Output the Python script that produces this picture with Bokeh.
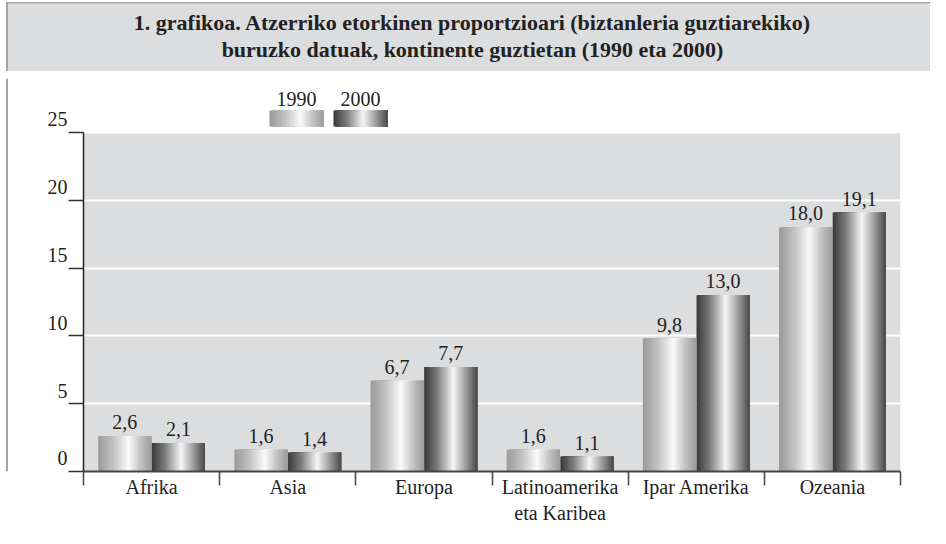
from bokeh.plotting import figure
from bokeh.models import ColumnDataSource, FixedTicker, Range1d, BoxAnnotation
from bokeh.layouts import column, row
from bokeh.embed import file_html
from bokeh.resources import INLINE
from bokeh.core.properties import value

# ---------------- data ----------------
TITLE_LINES = [
    "1. grafikoa. Atzerriko etorkinen proportzioari (biztanleria guztiarekiko)",
    "buruzko datuak, kontinente guztietan (1990 eta 2000)",
]
categories = ["Afrika", "Asia", "Europa", "Latinoamerika\neta Karibea", "Ipar Amerika", "Ozeania"]
years = ["1990", "2000"]
values_1990 = [2.6, 1.6, 6.7, 1.6, 9.8, 18.0]
values_2000 = [2.1, 1.4, 7.7, 1.1, 13.0, 19.1]
y_ticks = [0, 5, 10, 15, 20, 25]

# ---------------- style ----------------
FONT = value("Liberation Serif")
TXT = "#222222"
BAND = "#dcdddf"
PLOT_BG = "#dcdddf"
EDGE = "#a4a4a4"
FS = "20px"
STOPS = {
    "1990": [(0.0, 0x9a), (0.3, 0xc4), (0.57, 0xfb), (0.8, 0xc2), (1.0, 0x9c)],
    "2000": [(0.0, 0x38), (0.25, 0x7e), (0.55, 0xf6), (0.82, 0x8e), (1.0, 0x48)],
}
NSTRIP = 40
BAR_W = 0.39
OFFS = [-0.197, 0.197]

def grad(stops, t):
    for (t0, c0), (t1, c1) in zip(stops, stops[1:]):
        if t0 <= t <= t1:
            f = (t - t0) / (t1 - t0)
            c = int(round(c0 + (c1 - c0) * f))
            return "#%02x%02x%02x" % (c, c, c)
    c = stops[-1][1]
    return "#%02x%02x%02x" % (c, c, c)

# layout (pixels)
W = 930
TITLE_H = 71
MAIN_H = 457
SIDE_W = 8
PX_PER_UNIT = 339 / 25.0
FRAME_H = 393
Y_END = FRAME_H / PX_PER_UNIT

# ---------------- title band ----------------
t = figure(width=W, height=TITLE_H, x_range=Range1d(0, W), y_range=Range1d(0, TITLE_H),
           output_backend="svg", toolbar_location=None, min_border=0,
           x_axis_location=None, y_axis_location=None,
           background_fill_color="white", border_fill_color="white", outline_line_color=None)
t.grid.visible = False
t.quad(left=[7.5], right=[W], bottom=[0], top=[TITLE_H - 3], fill_color=BAND, line_color=None)
t.quad(left=[7], right=[W], bottom=[TITLE_H - 3], top=[TITLE_H - 1.5], fill_color=EDGE, line_color=None)
t.quad(left=[5.5], right=[7.5], bottom=[0], top=[TITLE_H - 1.5], fill_color=EDGE, line_color=None)
t.text(x=[472, 472], y=[TITLE_H - 22, TITLE_H - 49], text=TITLE_LINES, text_align="center",
       text_baseline="middle", text_font=FONT, text_font_style="bold",
       text_font_size="22px", text_color=TXT)

# ---------------- left edge strip ----------------
side = figure(width=SIDE_W, height=MAIN_H, x_range=Range1d(0, SIDE_W), y_range=Range1d(0, MAIN_H),
              output_backend="svg", toolbar_location=None, min_border=0,
              x_axis_location=None, y_axis_location=None,
              background_fill_color="white", border_fill_color="white", outline_line_color=None)
side.grid.visible = False
side.quad(left=[5.5], right=[7.5], bottom=[0], top=[MAIN_H], fill_color=EDGE, line_color=None)

# ---------------- main chart ----------------
p = figure(width=W - SIDE_W, height=MAIN_H, x_range=Range1d(0, 6), y_range=Range1d(0, Y_END),
           output_backend="svg", toolbar_location=None,
           min_border_left=83 - SIDE_W, min_border_right=W - 900, min_border_top=7,
           min_border_bottom=TITLE_H + MAIN_H - 471,
           background_fill_color="white", border_fill_color="white", outline_line_color=None)

p.add_layout(BoxAnnotation(bottom=0, top=y_ticks[-1], fill_color=PLOT_BG, fill_alpha=1.0,
                           line_color=None, level="image"))

# bars as gradient strips (each strip runs to the bar's right edge to avoid seams)
xs_l, xs_r, tops, cols = [], [], [], []
for s, (yr, vals) in enumerate(zip(years, [values_1990, values_2000])):
    for i, v in enumerate(vals):
        left0 = i + 0.5 + OFFS[s] - BAR_W / 2
        for k in range(NSTRIP):
            xs_l.append(left0 + k * BAR_W / NSTRIP)
            xs_r.append(left0 + BAR_W)
            tops.append(v)
            cols.append(grad(STOPS[yr], (k + 0.5) / NSTRIP))
src = ColumnDataSource(dict(left=xs_l, right=xs_r, top=tops, bottom=[0] * len(tops), color=cols))
p.quad(left="left", right="right", top="top", bottom="bottom", fill_color="color",
       line_color=None, source=src)

# value labels
lx, ly, lt = [], [], []
for s, vals in enumerate([values_1990, values_2000]):
    for i, v in enumerate(vals):
        lx.append(i + 0.5 + OFFS[s])
        ly.append(v)
        lt.append(("%.1f" % v).replace(".", ","))
p.text(x=lx, y=ly, text=lt, text_align="center", text_baseline="bottom", y_offset=-7,
       text_font=FONT, text_font_size=FS, text_color=TXT)

# legend (drawn above the plot area)
LEG_X = [(1.366, 1.763), (1.836, 2.233)]
LEG_Y = (25.44, 26.62)
gl, gr, gc, gb, gt = [], [], [], [], []
for s, yr in enumerate(years):
    a, b = LEG_X[s]
    for k in range(NSTRIP):
        gl.append(a + k * (b - a) / NSTRIP)
        gr.append(b)
        gb.append(LEG_Y[0]); gt.append(LEG_Y[1])
        gc.append(grad(STOPS[yr], (k + 0.5) / NSTRIP))
p.quad(left=gl, right=gr, bottom=gb, top=gt, fill_color=gc, line_color=None)
p.text(x=[(a + b) / 2 for a, b in LEG_X], y=[LEG_Y[1]] * 2, text=years, text_align="center",
       text_baseline="bottom", y_offset=-5, text_font=FONT, text_font_size=FS, text_color=TXT)

# y axis
yax = p.yaxis[0]
yax.ticker = FixedTicker(ticks=y_ticks, minor_ticks=[])
yax.bounds = (y_ticks[0], y_ticks[-1])
yax.major_tick_out = 15
yax.major_tick_in = 0
yax.major_tick_line_color = "#333333"
yax.major_tick_line_width = 1.5
yax.axis_line_color = "#222222"
yax.axis_line_width = 1.5
yax.major_label_overrides = {v: "%d\n" % v for v in y_ticks}
yax.major_label_standoff = 1
yax.major_label_text_font = "Liberation Serif"
yax.major_label_text_font_size = FS
yax.major_label_text_color = TXT

# x axis
xax = p.xaxis[0]
xax.ticker = FixedTicker(ticks=[i + 0.5 for i in range(len(categories))],
                         minor_ticks=list(range(len(categories) + 1)))
xax.major_tick_line_color = None
xax.minor_tick_out = 14
xax.minor_tick_in = 0
xax.minor_tick_line_color = "#444444"
xax.minor_tick_line_width = 1.5
xax.axis_line_color = "#444444"
xax.axis_line_width = 2
xax.major_label_overrides = {i + 0.5: c for i, c in enumerate(categories)}
xax.major_label_standoff = -10
xax.major_label_text_font = "Liberation Serif"
xax.major_label_text_font_size = FS
xax.major_label_text_color = TXT

p.xgrid.grid_line_color = None
p.ygrid.ticker = FixedTicker(ticks=y_ticks)
p.ygrid.grid_line_color = "white"
p.ygrid.grid_line_width = 2

layout = column(t, row(side, p, spacing=0), spacing=0)
open("out.html", "w").write(file_html(layout, INLINE))
